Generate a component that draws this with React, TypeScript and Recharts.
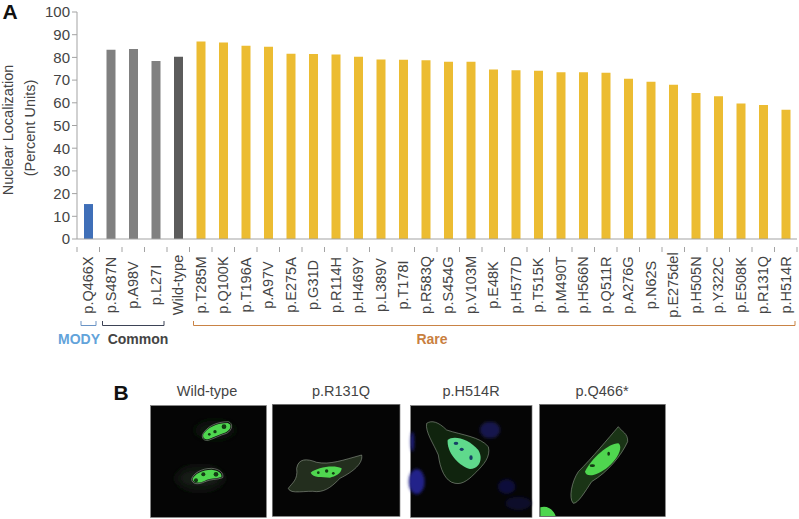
import { BarChart, Bar, Cell, XAxis, YAxis } from 'recharts';

const FONT = '"Liberation Sans", Arial, sans-serif';
const INK = '#444';
const AXIS_GREY = '#a3a3a3';

const variants = [
  'p.Q466X', 'p.S487N', 'p.A98V', 'p.L27I', 'Wild-type', 'p.T285M', 'p.Q100K', 'p.T196A',
  'p.A97V', 'p.E275A', 'p.G31D', 'p.R114H', 'p.H469Y', 'p.L389V', 'p.T178I', 'p.R583Q',
  'p.S454G', 'p.V103M', 'p.E48K', 'p.H577D', 'p.T515K', 'p.M490T', 'p.H566N', 'p.Q511R',
  'p.A276G', 'p.N62S', 'p.E275del', 'p.H505N', 'p.Y322C', 'p.E508K', 'p.R131Q', 'p.H514R',
];
const localization = [
  15.4, 83.4, 83.7, 78.4, 80.3, 87, 86.6, 85.1,
  84.7, 81.6, 81.5, 81.3, 80.3, 79.1, 79, 78.7,
  78.1, 78.1, 74.7, 74.3, 74.1, 73.5, 73.5, 73.2,
  70.6, 69.3, 67.9, 64.3, 62.9, 59.7, 59, 56.9,
];
const groupColors = ['#3f6fb8', '#808080', '#808080', '#808080', '#5c5c5c'];
const RARE = '#ecbc32';
const yTicks = [0, 10, 20, 30, 40, 50, 60, 70, 80, 90, 100];

const rows = variants.map((name, i) => ({ name, value: localization[i] }));
const BAND = 720 / variants.length;

// ticks sit on the category edges in the original, labels stay on the bar centres
function VariantTick({ x, y, payload, index }: any) {
  const last = index === variants.length - 1;
  return (
    <g>
      <line x1={x - BAND / 2} x2={x - BAND / 2} y1={y} y2={y + 5} stroke={AXIS_GREY} />
      {last && <line x1={x + BAND / 2} x2={x + BAND / 2} y1={y} y2={y + 5} stroke={AXIS_GREY} />}
      <text
        transform={`translate(${x} 285) rotate(-90)`}
        textAnchor="middle"
        dominantBaseline="central"
        fontFamily={FONT}
        fontSize={14.5}
        fill={INK}
      >
        {payload.value}
      </text>
    </g>
  );
}

function Bracket({ x1, x2, color }: { x1: number; x2: number; color: string }) {
  return <path d={`M${x1} 321 V325.5 H${x2} V321`} fill="none" stroke={color} strokeWidth={1} />;
}

function Caption({ x, y, children, color = INK, size = 14.5, bold = false }: any) {
  return (
    <text x={x} y={y} textAnchor="middle" fontFamily={FONT} fontSize={size} fontWeight={bold ? 700 : 400} fill={color}>
      {children}
    </text>
  );
}

const NUCLEUS = '#4fd650';
const OUTLINE = '#aab5a6';

function Micrographs() {
  return (
    <g>
      <defs>
        <filter id="soft"><feGaussianBlur stdDeviation="1.6" /></filter>
        <filter id="dim"><feGaussianBlur stdDeviation="5" /></filter>
        <filter id="softer"><feGaussianBlur stdDeviation="14" /></filter>
      </defs>
      {/* panels are drawn in the coordinates of 3x crops */}
      <g transform="translate(100 375) scale(0.3333)">
        <rect x={152} y={92} width={347} height={335} fill="#050505" stroke="#777" strokeWidth={2} />
        <rect x={517} y={88} width={383} height={336} fill="#050505" stroke="#777" strokeWidth={2} />
        <ellipse cx={300} cy={310} rx={70} ry={35} fill="#141c14" filter="url(#softer)" />
        <ellipse cx={345} cy={165} rx={60} ry={28} fill="#0e150e" filter="url(#softer)" />
        <path d="M308 178 C320 155 350 140 385 140 C400 145 398 165 380 175 C360 180 345 190 325 196 C312 198 304 190 308 178Z" fill="none" stroke={OUTLINE} strokeWidth={1.5} />
        <path d="M275 312 C280 295 305 280 335 280 C360 282 372 295 368 308 C350 315 330 312 315 320 C295 330 275 328 275 312Z" fill="none" stroke={OUTLINE} strokeWidth={1.5} />
        <path d="M310 178 C322 158 350 144 383 144 C396 148 394 163 378 172 C358 178 343 187 325 193 C314 195 307 188 310 178Z" fill={NUCLEUS} filter="url(#soft)" />
        <path d="M278 312 C283 298 306 284 335 284 C356 286 368 297 364 306 C348 312 330 309 315 317 C297 326 278 324 278 312Z" fill={NUCLEUS} filter="url(#soft)" />
        <g fill="#123a12" filter="url(#soft)">
          <circle cx={372} cy={155} r={7} /><circle cx={345} cy={170} r={5} /><circle cx={328} cy={178} r={4} />
          <circle cx={310} cy={298} r={6} /><circle cx={348} cy={298} r={7} /><circle cx={288} cy={316} r={6} />
        </g>
        <path d="M565 340 C575 325 595 315 590 280 C595 250 620 250 650 262 C690 270 730 255 785 240 C790 265 760 290 720 310 C700 330 680 350 650 350 C620 345 570 360 565 340Z" fill="#232e1e" stroke={OUTLINE} strokeWidth={1.5} />
        <path d="M632 293 C650 278 700 268 725 280 C725 295 705 305 690 308 C665 305 640 310 632 293Z" fill={NUCLEUS} filter="url(#soft)" />
        <g fill="#123a12" filter="url(#soft)">
          <circle cx={655} cy={293} r={4} /><circle cx={680} cy={288} r={5} /><circle cx={700} cy={295} r={4} />
        </g>
      </g>
      <g transform="translate(405 375) scale(0.3333)">
        <rect x={17} y={92} width={364} height={335} fill="#050505" stroke="#777" strokeWidth={2} />
        <rect x={404} y={88} width={377} height={337} fill="#050505" stroke="#777" strokeWidth={2} />
        <g filter="url(#dim)">
          <ellipse cx={255} cy={165} rx={30} ry={25} fill="#17174e" />
          <ellipse cx={35} cy={320} rx={24} ry={38} fill="#20208a" />
          <ellipse cx={22} cy={200} rx={5} ry={30} fill="#20208a" />
          <ellipse cx={305} cy={335} rx={26} ry={22} fill="#10103a" />
          <ellipse cx={340} cy={385} rx={38} ry={20} fill="#0e0e2a" />
        </g>
        <path d="M65 145 C80 135 100 140 125 165 C170 180 225 185 250 215 C258 245 235 270 215 290 C195 310 175 330 150 325 C120 320 105 280 100 240 C85 205 60 170 65 145Z" fill="#10240e" stroke={OUTLINE} strokeWidth={1.5} />
        <path d="M128 195 C145 180 190 190 220 225 C235 250 225 280 195 282 C165 275 125 235 128 195Z" fill="#5fd98c" filter="url(#soft)" />
        <g fill="#143f66" filter="url(#soft)">
          <ellipse cx={153} cy={205} rx={7} ry={5} /><ellipse cx={170} cy={223} rx={6} ry={5} /><ellipse cx={198} cy={248} rx={5} ry={7} />
        </g>
        <path d="M640 155 C650 170 670 175 668 200 C650 240 610 290 560 320 C540 350 520 385 505 385 C490 370 500 320 520 290 C560 250 610 190 640 155Z" fill="#1a3416" stroke={OUTLINE} strokeWidth={1.5} />
        <path d="M540 290 C560 250 610 205 640 205 C655 215 640 250 610 275 C580 300 545 310 540 290Z" fill={NUCLEUS} filter="url(#soft)" />
        <g fill="#123a12" filter="url(#soft)">
          <ellipse cx={562} cy={272} rx={8} ry={4} /><ellipse cx={611} cy={236} rx={4} ry={6} />
        </g>
        <path d="M406 397 C425 390 445 402 452 423 L406 423Z" fill={NUCLEUS} filter="url(#soft)" />
      </g>
    </g>
  );
}

export default function App() {
  return (
    <div style={{ position: 'absolute', left: 0, top: 0, width: 799, height: 519, background: '#fff' }}>
      <BarChart
        width={799}
        height={519}
        data={rows}
        barSize={9}
        margin={{ top: 12, right: 2, bottom: 0, left: 0 }}
      >
        <XAxis
          dataKey="name"
          interval={0}
          height={280}
          stroke={AXIS_GREY}
          tickLine={false}
          tick={<VariantTick />}
        />
        <YAxis
          width={77}
          domain={[0, 100]}
          ticks={yTicks}
          interval={0}
          stroke={AXIS_GREY}
          tickSize={5}
          tick={{ fontFamily: FONT, fontSize: 15, fill: INK }}
        />
        <Bar dataKey="value" isAnimationActive={false}>
          {rows.map((r, i) => (
            <Cell key={r.name} fill={groupColors[i] ?? RARE} />
          ))}
        </Bar>
      </BarChart>

      <svg width={799} height={519} style={{ position: 'absolute', left: 0, top: 0, pointerEvents: 'none' }}>
        <Caption x={10} y={19} size={21} bold color="#111">A</Caption>
        <Caption x={121} y={400} size={21} bold color="#111">B</Caption>

        <g transform="translate(13 130) rotate(-90)">
          <Caption x={0} y={0}>Nuclear Localization</Caption>
        </g>
        <g transform="translate(35 128) rotate(-90)">
          <Caption x={0} y={0}>(Percent Units)</Caption>
        </g>

        <Bracket x1={81} x2={96} color="#6a93c4" />
        <Bracket x1={102.5} x2={164} color="#3d4356" />
        <Bracket x1={193.5} x2={795} color="#c98345" />
        <Caption x={79} y={344} size={14} bold color="#62a3da">MODY</Caption>
        <Caption x={138} y={344} size={14} bold>Common</Caption>
        <Caption x={432} y={344} size={14} bold color="#c9803f">Rare</Caption>

        <Caption x={207} y={396}>Wild-type</Caption>
        <Caption x={341} y={396}>p.R131Q</Caption>
        <Caption x={471} y={396}>p.H514R</Caption>
        <Caption x={602} y={396}>p.Q466*</Caption>

        <Micrographs />
      </svg>
    </div>
  );
}
